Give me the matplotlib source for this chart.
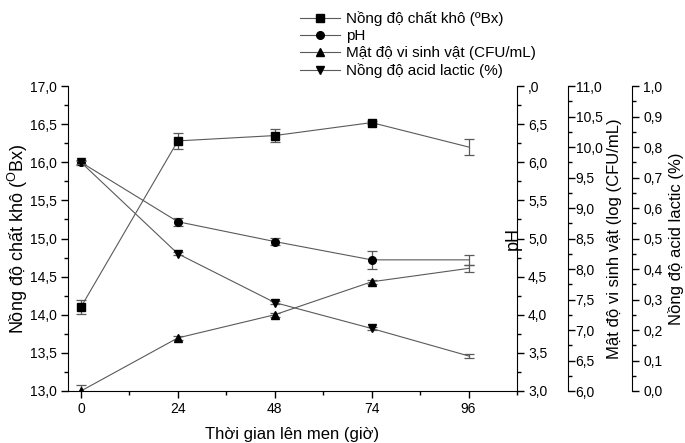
import numpy as np
import matplotlib
matplotlib.use("Agg")
import matplotlib.pyplot as plt
from matplotlib.ticker import MultipleLocator, FuncFormatter
from matplotlib.lines import Line2D

plt.rcParams['font.family'] = ['Liberation Sans', 'DejaVu Sans']
plt.rcParams['mathtext.fontset'] = 'custom'
plt.rcParams['mathtext.rm'] = 'Liberation Sans'

# data
hours = [0, 24, 48, 72, 96]
hour_labels = ['0', '24', '48', '74', '96']

brix = [14.1, 16.28, 16.35, 16.52, 16.2]
brix_err = [0.09, 0.11, 0.08, 0.02, 0.1]
ph = [6.0, 5.22, 4.96, 4.72, 4.72]
ph_err = [0.03, 0.05, 0.05, 0.12, 0.07]
cfu = [6.0, 6.87, 7.25, 7.79, 8.01]
cfu_err = [0.1, 0.03, 0.03, 0.03, 0.06]
lactic = [0.75, 0.45, 0.29, 0.205, 0.115]
lactic_err = [0.005, 0.005, 0.005, 0.005, 0.007]

def comma(v, pos):
    return ('%.1f' % v).replace('.', ',')

def comma_ph(v, pos):
    if abs(v - 7.0) < 1e-6:
        return ',0'
    return comma(v, pos)

fig = plt.figure(figsize=(6.85, 4.43), dpi=100)
ax = fig.add_axes([68/685, 52/443, 449/685, 305/443])
ax_ph = ax.twinx()
ax_cfu = ax.twinx()
ax_lac = ax.twinx()

line_c = '#5a5a5a'
def draw(a, y, e, m):
    a.errorbar(hours, y, yerr=e, fmt='none', ecolor='#5a5a5a', elinewidth=0.9,
               capsize=3.5, capthick=0.9)
    a.plot(hours, y, color=line_c, lw=0.8, marker=m, markersize=5.5,
           markerfacecolor='black', markeredgecolor='black', markevery=[0, 1, 2, 3])

draw(ax, brix, brix_err, 's')
draw(ax_ph, ph, ph_err, 'o')
draw(ax_cfu, cfu, cfu_err, '^')
draw(ax_lac, lactic, lactic_err, 'v')

ax.set_xlim(-3.2, 108)
ax.set_xticks(hours)
ax.set_xticklabels(hour_labels)
ax.xaxis.set_minor_locator(MultipleLocator(12))
ax.set_ylim(13, 17)
ax.yaxis.set_major_locator(MultipleLocator(0.5))
ax.yaxis.set_minor_locator(MultipleLocator(0.25))
ax.yaxis.set_major_formatter(FuncFormatter(comma))
ax.spines['top'].set_visible(False)
ax.spines['right'].set_visible(False)
ax.tick_params(which='major', direction='out', length=5, width=1, labelsize=10, pad=3)
ax.tick_params(which='minor', direction='out', length=3, width=1)
ax.set_xlabel('Thời gian lên men (giờ)', fontsize=12, labelpad=8)
ax.set_ylabel(r'Nồng độ chất khô ($^{\mathrm{O}}$Bx)', fontsize=13)
ax.yaxis.set_label_coords(-0.085, 0.5)

ax_ph.set_ylim(3, 7)
ax_ph.yaxis.set_major_locator(MultipleLocator(0.5))
ax_ph.yaxis.set_minor_locator(MultipleLocator(0.25))
ax_ph.yaxis.set_major_formatter(FuncFormatter(comma_ph))
ax_ph.set_ylabel('pH', fontsize=13)
ax_ph.yaxis.set_label_coords(0.972, 0.5)

ax_cfu.set_ylim(6, 11)
ax_cfu.yaxis.set_major_locator(MultipleLocator(0.5))
ax_cfu.yaxis.set_minor_locator(MultipleLocator(0.25))
ax_cfu.yaxis.set_major_formatter(FuncFormatter(comma))
ax_cfu.spines['right'].set_position(('axes', 500/449))
ax_cfu.set_ylabel('Mật độ vi sinh vật (log (CFU/mL)', fontsize=12)
ax_cfu.yaxis.set_label_coords(1.2, 0.5)

ax_lac.set_ylim(0, 1)
ax_lac.yaxis.set_major_locator(MultipleLocator(0.1))
ax_lac.yaxis.set_minor_locator(MultipleLocator(0.05))
ax_lac.yaxis.set_major_formatter(FuncFormatter(comma))
ax_lac.spines['right'].set_position(('axes', 564/449))
ax_lac.set_ylabel('Nồng độ acid lactic (%)', fontsize=12)
ax_lac.yaxis.set_label_coords(1.336, 0.5)

for a, p in [(ax_ph, 3), (ax_cfu, 0.5), (ax_lac, 3)]:
    for s in ['top', 'left', 'bottom']:
        a.spines[s].set_visible(False)
    a.tick_params(which='major', direction='out', length=5, width=1, labelsize=10, pad=p)
    a.tick_params(which='minor', direction='out', length=3, width=1)
    a.yaxis.label.set_rotation(90)
    a.yaxis.label.set_va('top')

handles = [Line2D([], [], color=line_c, lw=0.8, marker=m, markersize=5.5,
                  markerfacecolor='black', markeredgecolor='black')
           for m in ['s', 'o', '^', 'v']]
labels = ['Nồng độ chất khô (ºBx)', 'pH', 'Mật độ vi sinh vật (CFU/mL)',
          'Nồng độ acid lactic (%)']
fig.legend(handles, labels, loc='upper left', bbox_to_anchor=(294/685, 1 - 5/443),
           frameon=False, fontsize=11, handlelength=2.6, labelspacing=0.2,
           handletextpad=0.4, borderaxespad=0)

fig.savefig('out.png', dpi=100)
